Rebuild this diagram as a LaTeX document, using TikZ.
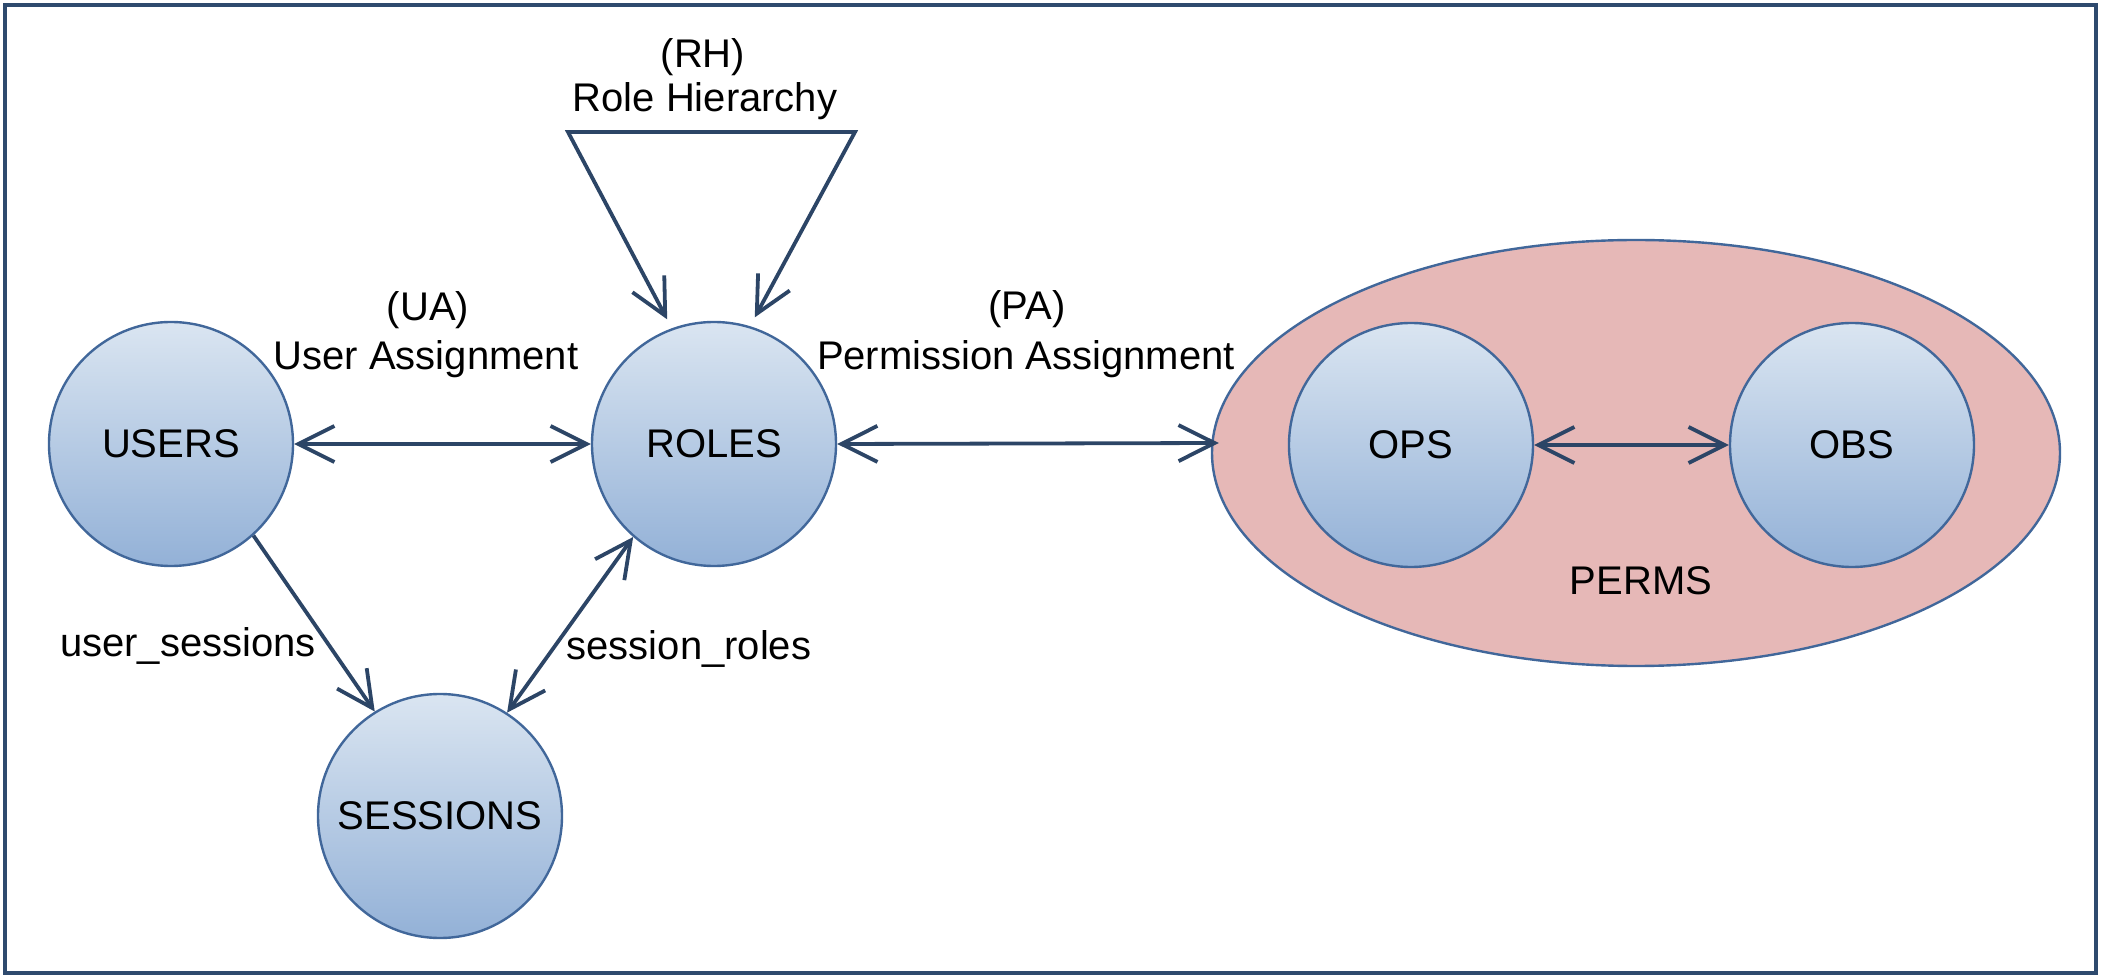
\documentclass[tikz,border=0pt]{standalone}
\usepackage{fontspec}
\setmainfont{Liberation Sans}
\usetikzlibrary{arrows.meta,shapes.geometric}
\definecolor{frameC}{HTML}{2E4A6E}
\definecolor{lineC}{HTML}{2C4566}
\definecolor{edgeC}{HTML}{41679A}
\definecolor{topC}{HTML}{DAE5F1}
\definecolor{botC}{HTML}{93B1D7}
\definecolor{permC}{HTML}{E6B8B7}
\tikzset{
  ent/.style={circle, draw=edgeC, line width=1.2pt, minimum size=122pt, inner sep=0pt,
    top color=topC, bottom color=botC},
  lbl/.style={anchor=base, inner sep=0pt, text=black},
  conn/.style={draw=lineC, line width=1.9pt, line join=miter},
  barb/.tip={Straight Barb[length=18pt,width=18pt]},
}
\begin{document}
\begin{tikzpicture}[x=0.5pt,y=-0.5pt,font=\fontsize{20pt}{24pt}\selectfont]
\useasboundingbox (0,0) rectangle (2101,978);
\draw[frameC, line width=2.3pt] (5,5) rectangle (2096,973);
% PERMS ellipse
\node[ellipse, draw=edgeC, line width=1.2pt, fill=permC, minimum width=424pt, minimum height=213pt, inner sep=0pt] (perms) at (1636,453) {};
\node[lbl] (permsl) at (1641,595) {PERMS};
% entities
\node[ent] (users) at (171,444) {USERS};
\node[ent] (roles) at (714,444) {ROLES};
\node[ent] (sessions) at (440,816) {SESSIONS};
\node[ent] (ops) at (1411,445) {OPS};
\node[ent] (obs) at (1852,445) {OBS};
% labels
\node[lbl] (rh1) at (703,68) {(RH)};
\node[lbl] (rh2) at (705,112) {Role Hierarchy};
\node[lbl] (ua1) at (428,321) {(UA)};
\node[lbl] (ua2) at (426,370) {User Assignment};
\node[lbl] (pa1) at (1027,320) {(PA)};
\node[lbl] (pa2) at (1026,370) {Permission Assignment};
\node[lbl] (us) at (188,657) {user\_sessions};
\node[lbl] (sr) at (689,660) {session\_roles};
% RH loop
\coordinate (c1) at (568,132);
\coordinate (c2) at (855,132);
\draw[conn, {barb}-{barb}, shorten <=5pt, shorten >=5pt] (roles.110) -- (c1) -- (c2) -- (roles.73);
% connectors
\draw[conn, {barb}-{barb}] (users.east) -- (roles.west);
\draw[conn, {barb}-{barb}] (roles.east) -- ([xshift=4pt,yshift=5pt]perms.west);
\draw[conn, {barb}-{barb}] (ops.east) -- (obs.west);
\draw[conn, -{barb}] (users.-48) -- (sessions.122);
\draw[conn, {barb}-{barb}] (sessions.57) -- (roles.229);
\end{tikzpicture}
\end{document}
